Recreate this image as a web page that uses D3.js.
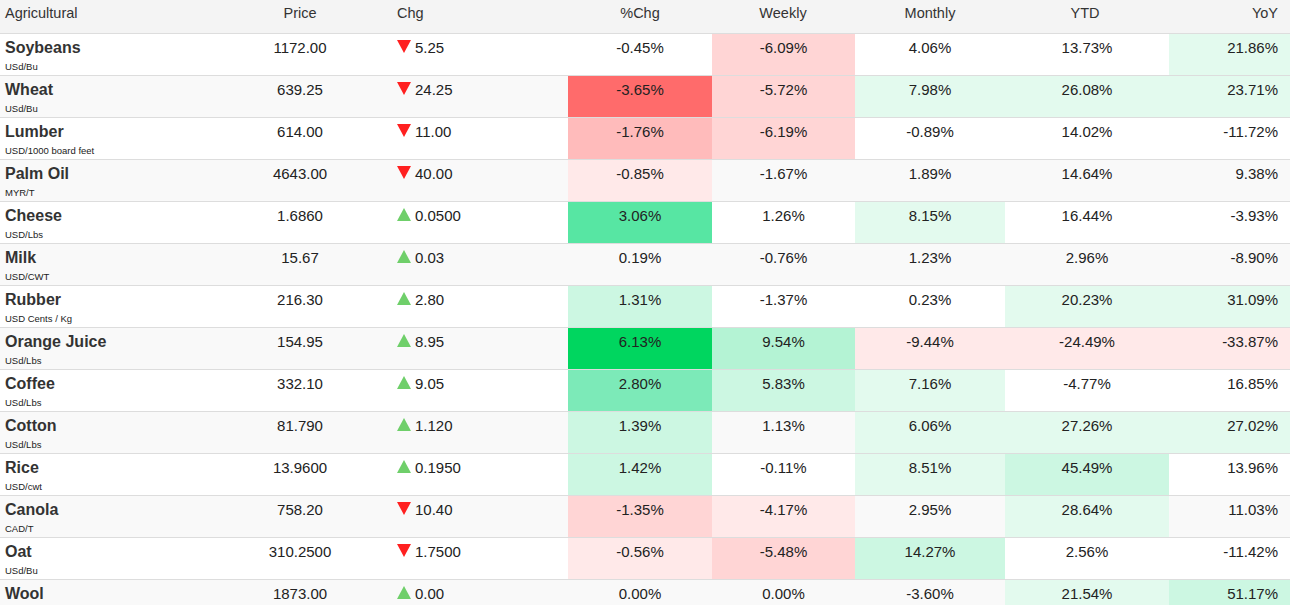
<!DOCTYPE html>
<html><head><meta charset="utf-8">
<script src="https://cdn.jsdelivr.net/npm/d3@7"></script>
<style>body{margin:0;background:#fff;font-family:"Liberation Sans",Arial,sans-serif}</style>
</head><body><svg id="c" width="1290" height="605"></svg>
<script>
const headers=["Agricultural","Price","Chg","%Chg","Weekly","Monthly","YTD","YoY"];
const names=["Soybeans","Wheat","Lumber","Palm Oil","Cheese","Milk","Rubber","Orange Juice","Coffee","Cotton","Rice","Canola","Oat","Wool"];
const units=["USd/Bu","USd/Bu","USD/1000 board feet","MYR/T","USD/Lbs","USD/CWT","USD Cents / Kg","USd/Lbs","USd/Lbs","USd/Lbs","USD/cwt","CAD/T","USd/Bu","USd/Bu"];
const price=["1172.00","639.25","614.00","4643.00","1.6860","15.67","216.30","154.95","332.10","81.790","13.9600","758.20","310.2500","1873.00"];
const chg=["5.25","24.25","11.00","40.00","0.0500","0.03","2.80","8.95","9.05","1.120","0.1950","10.40","1.7500","0.00"];
const chgDir=[-1,-1,-1,-1,1,1,1,1,1,1,1,-1,-1,1];
const pctChg=[-0.45,-3.65,-1.76,-0.85,3.06,0.19,1.31,6.13,2.80,1.39,1.42,-1.35,-0.56,0.00];
const weekly=[-6.09,-5.72,-6.19,-1.67,1.26,-0.76,-1.37,9.54,5.83,1.13,-0.11,-4.17,-5.48,0.00];
const monthly=[4.06,7.98,-0.89,1.89,8.15,1.23,0.23,-9.44,7.16,6.06,8.51,2.95,14.27,-3.60];
const ytd=[13.73,26.08,14.02,14.64,16.44,2.96,20.23,-24.49,-4.77,27.26,45.49,28.64,2.56,21.54];
const yoy=[21.86,23.71,-11.72,9.38,-3.93,-8.90,31.09,-33.87,16.85,27.02,13.96,11.03,-11.42,51.17];
// heat level per cell as shown in the reference
const lvPct=[0,-4,-3,-1,5,0,2,6,4,2,2,-2,-1,0];
const lvWeek=[-2,-2,-2,0,0,0,0,3,2,0,0,-1,-2,0];
const lvMonth=[0,1,0,0,1,0,0,-1,1,1,1,0,2,0];
const lvYtd=[0,1,0,0,0,0,1,-1,0,1,2,1,0,1];
const lvYoy=[1,1,0,0,0,0,1,-1,0,1,0,0,0,2];

const shade={"-4":"#ff6b6b","-3":"#ffbbbb","-2":"#ffd5d5","-1":"#ffe9e9","1":"#e3faee","2":"#ccf7e2","3":"#b4f3d4","4":"#7ceab8","5":"#57e6a3","6":"#00d65f"};
const svg=d3.select("#c");
const headH=33, rowH=42;
const y=d3.scaleBand().domain(d3.range(names.length)).range([headH+1,headH+1+rowH*names.length]);
// column edges
const pcCols=[{v:pctChg,l:lvPct,x0:568,x1:712,a:"middle"},{v:weekly,l:lvWeek,x0:712,x1:855,a:"middle"},
 {v:monthly,l:lvMonth,x0:855,x1:1005,a:"middle"},{v:ytd,l:lvYtd,x0:1005,x1:1169,a:"middle"},{v:yoy,l:lvYoy,x0:1169,x1:1290,a:"end"}];

svg.append("rect").attr("x",0).attr("y",0).attr("width",1290).attr("height",headH).attr("fill","#f4f4f4");
svg.append("rect").attr("x",0).attr("y",headH).attr("width",1290).attr("height",1).attr("fill","#dddddd");
const hx=[{x:5,a:"start"},{x:300,a:"middle"},{x:397,a:"start"},{x:640,a:"middle"},{x:783,a:"middle"},{x:930,a:"middle"},{x:1085,a:"middle"},{x:1278,a:"end"}];
headers.forEach((h,i)=>svg.append("text").attr("x",hx[i].x).attr("y",18).attr("text-anchor",hx[i].a)
  .attr("font-size",14.5).attr("fill","#333").text(h));

const rows=svg.selectAll("g.r").data(names).join("g").attr("transform",(d,i)=>`translate(0,${y(i)})`);
rows.append("rect").attr("width",1290).attr("height",rowH).attr("fill",(d,i)=>i%2?"#f9f9f9":"#ffffff");
pcCols.forEach(c=>{
  rows.each(function(d,i){
    const g=d3.select(this);
    if(c.l[i]) g.append("rect").attr("x",c.x0).attr("width",c.x1-c.x0).attr("height",rowH-1).attr("fill",shade[c.l[i]]);
    g.append("text").attr("x",c.a==="end"?1278:(c.x0+c.x1)/2).attr("y",19).attr("text-anchor",c.a)
     .attr("font-size",15).attr("fill","#222").text(c.v[i].toFixed(2)+"%");
  });
});
rows.append("rect").attr("y",rowH-1).attr("width",1290).attr("height",1.5).attr("fill","#dddddd");
rows.append("text").attr("x",5).attr("y",19).attr("font-size",16).attr("font-weight","bold").attr("fill","#333").text(d=>d);
rows.append("text").attr("x",5).attr("y",36).attr("font-size",9.5).attr("fill","#222").text((d,i)=>units[i]);
rows.append("text").attr("x",300).attr("y",19).attr("text-anchor","middle").attr("font-size",15).attr("fill","#222").text((d,i)=>price[i]);
rows.append("path").attr("transform","translate(404,13)")
  .attr("d",(d,i)=>chgDir[i]<0?"M-7,-7L7,-7L0,6Z":"M-7,6L7,6L0,-7Z")
  .attr("fill",(d,i)=>chgDir[i]<0?"#ff2020":"#6fcf6a");
rows.append("text").attr("x",415).attr("y",19).attr("font-size",15).attr("fill","#222").text((d,i)=>chg[i]);
</script></body></html>
